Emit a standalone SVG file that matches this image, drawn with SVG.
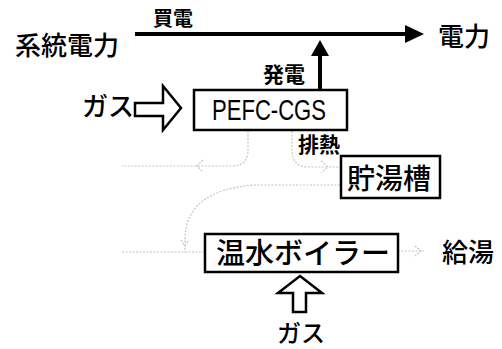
<svg xmlns="http://www.w3.org/2000/svg" width="502" height="349" viewBox="0 0 502 349">
<style>
.jp{font-family:"Noto Sans CJK JP","Noto Sans CJK SC",sans-serif;font-weight:500;fill:#000}
.sm{font-weight:700}
.box{fill:#fff;stroke:#000;stroke-width:2.5}
.hollow{fill:#fff;stroke:#000;stroke-width:2.5;stroke-linejoin:miter}
.faint{fill:none;stroke:#c4c4c4;stroke-width:1.2;stroke-dasharray:2 1.5}
</style>
<rect width="502" height="349" fill="#fff"/>
<g id="connectors">
  <line x1="135" y1="34" x2="408" y2="34" stroke="#000" stroke-width="4"/>
  <polygon points="424,34 405,25 405,43" fill="#000"/>
  <line x1="320" y1="90" x2="320" y2="54" stroke="#000" stroke-width="4"/>
  <polygon points="320,40 329,56 311,56" fill="#000"/>
  <polygon class="hollow" points="135,103 163,103 163,86 181,108 163,130 163,116 135,116"/>
  <polygon class="hollow" points="300,276 322,293 306,293 306,312 293,312 293,293 278,293"/>
  <path class="faint" d="M248,131 V150 Q248,166 232,166 H122"/>
  <path class="faint" d="M203,160 L197,166 L203,172"/>
  <path class="faint" d="M292,131 V150 Q292,167 308,167 H340"/>
  <path class="faint" d="M321,161 L328,167 L321,173"/>
  <path class="faint" d="M340,185 H255 Q185,190 185,240 V252"/>
  <path class="faint" d="M181,240 L185,246 L189,240"/>
  <path class="faint" d="M122,252 H205"/>
  <path class="faint" d="M398,251 H424"/>
  <path class="faint" d="M415,246 L421,251 L415,256"/>
</g>
<g id="grid-power"><text class="jp" x="15" y="55" font-size="26">系統電力</text></g>
<g id="buy-label"><text class="jp sm" x="153" y="26" font-size="20">買電</text></g>
<g id="power-out"><text class="jp" x="438" y="46" font-size="26">電力</text></g>
<g id="gen-label"><text class="jp sm" x="263" y="82" font-size="21">発電</text></g>
<g id="gas-in-1"><text class="jp" x="82" y="116" font-size="26">ガス</text></g>
<g id="pefc">
  <rect class="box" x="194" y="90" width="153" height="40"/>
  <text x="212" y="120" font-family="'Liberation Sans',sans-serif" font-size="30" textLength="114" lengthAdjust="spacingAndGlyphs">PEFC-CGS</text>
</g>
<g id="heat-label"><text class="jp sm" x="298" y="152" font-size="21">排熱</text></g>
<g id="tank">
  <rect class="box" x="341" y="156" width="99" height="42"/>
  <text class="jp" x="347" y="189" font-size="28">貯湯槽</text>
</g>
<g id="boiler">
  <rect class="box" x="205" y="234" width="193" height="38"/>
  <text class="jp" x="216" y="264" font-size="29">温水ボイラー</text>
</g>
<g id="hot-water"><text class="jp" x="442" y="262" font-size="26">給湯</text></g>
<g id="gas-in-2"><text class="jp" x="277" y="342" font-size="24">ガス</text></g>
</svg>
